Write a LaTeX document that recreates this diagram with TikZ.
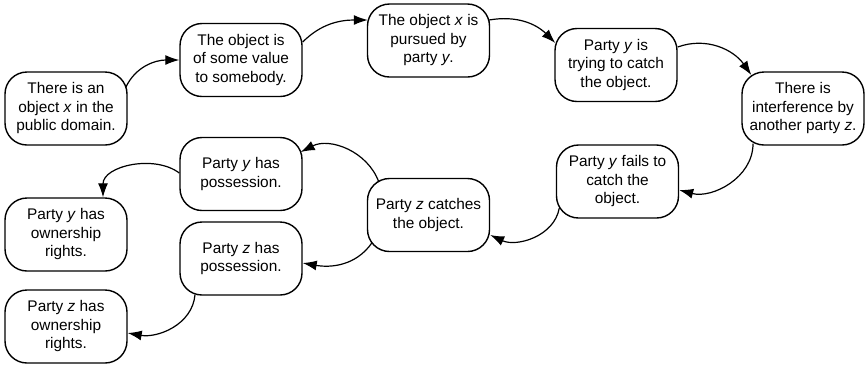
\documentclass[tikz,border=0pt]{standalone}
\usepackage{fontspec}
\setmainfont{Liberation Sans}
\usetikzlibrary{arrows.meta,calc}
\begin{document}
\begin{tikzpicture}[x=0.5pt,y=-0.5pt,
  stepbox/.style={draw, line width=0.7pt, rounded corners=11pt,
    minimum width=61pt, minimum height=36.5pt, inner sep=1pt,
    align=center, font=\fontsize{7.7}{9.25}\selectfont},
  link/.style={line width=0.6pt, -{Latex[length=7pt,width=5pt]}}]
\useasboundingbox (0,0) rectangle (865,366);

% events
\node[stepbox] (b1) at (66,108.5) {There is an\\object \textit{x} in the\\public domain.};
\node[stepbox] (b2) at (241,60) {The object is\\of some value\\to somebody.};
\node[stepbox] (b3) at (428.5,40.5) {The object \textit{x} is\\pursued by\\party \textit{y}.};
\node[stepbox] (b4) at (616,65) {Party \textit{y} is\\trying to catch\\the object.};
\node[stepbox] (b5) at (803,108.5) {There is\\interference by\\another party \textit{z}.};
\node[stepbox] (b6) at (617.5,181.5) {Party \textit{y} fails to\\catch the\\object.};
\node[stepbox] (b7) at (428.5,215) {Party \textit{z} catches\\the object.};
\node[stepbox] (b8) at (241,174) {Party \textit{y} has\\possession.};
\node[stepbox] (b9) at (241,258.5) {Party \textit{z} has\\possession.};
\node[stepbox] (b10) at (66,234.5) {Party \textit{y} has\\ownership\\rights.};
\node[stepbox] (b11) at (66,326.5) {Party \textit{z} has\\ownership\\rights.};

% transitions
\draw[link] ($(b1.east)+(-2,-21)$) to[out=65,in=180] (b2.west);
\draw[link] ($(b2.east)+(0,-18)$) to[out=45,in=180] ($(b3.west)+(1,-20.5)$);
\draw[link] ($(b3.east)+(-1,-20.5)$) to[out=10,in=135] ($(b4.west)+(1,-22)$);
\draw[link] ($(b4.east)+(0,-18)$) to[out=20,in=125] ($(b5.west)+(10,-33.5)$);
\draw[link] ($(b5.south)+(-50,-2)$) to[out=-90,in=-15] ($(b6.east)+(0,8.5)$);
\draw[link] ($(b6.west)+(3.5,26.5)$) to[out=-100,in=-25] ($(b7.east)+(0,20)$);
\draw[link] ($(b7.west)+(12,-33)$) to[out=110,in=27] ($(b8.east)+(-2,-22)$);
\draw[link] ($(b7.west)+(5,28)$) to[out=-125,in=-10] ($(b9.east)+(0,4.5)$);
\draw[link] ($(b8.west)+(0,-1)$) to[out=143,in=90] ($(b10.north)+(37,0)$);
\draw[link] ($(b9.south)+(-46,-1)$) to[out=-95,in=-10] ($(b11.east)+(0,6.5)$);
\end{tikzpicture}
\end{document}
